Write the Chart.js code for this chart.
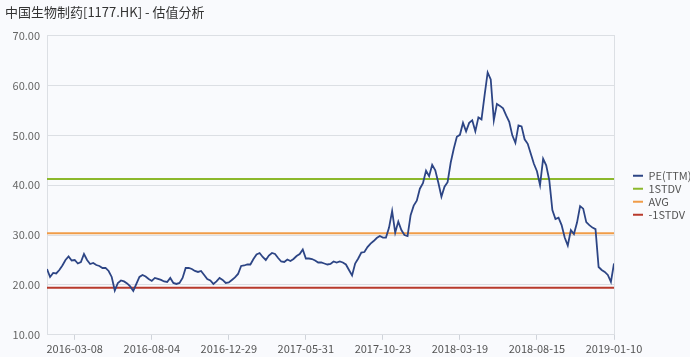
<!DOCTYPE html>
<html>
<head>
<meta charset="utf-8">
<script src="https://cdn.jsdelivr.net/npm/chart.js@4"></script>
<style>
  html, body { margin: 0; padding: 0; background: #f9fafd; }
  #wrap { width: 690px; height: 357px; }
</style>
</head>
<body>
<div id="wrap"><canvas id="chart"></canvas></div>
<script>
const title = '中国生物制药[1177.HK] - 估值分析'

// axis tick labels and where they fall in the series
const tickDates = ['2016-03-08', '2016-08-04', '2016-12-29', '2017-05-31', '2017-10-23', '2018-03-19', '2018-08-15', '2019-01-10']
const tickIdx = [9, 34, 59, 84, 109, 134, 159, 184]

// PE(TTM), sampled evenly from start to 2019-01-10
const pe = [
  23.2, 21.6, 22.4, 22.3, 23.0, 23.9, 25.0, 25.7, 24.9, 25.0,
  24.3, 24.6, 26.2, 25.0, 24.2, 24.4, 24.0, 23.8, 23.4, 23.4,
  22.8, 21.6, 18.9, 20.4, 20.9, 20.7, 20.3, 19.7, 18.8, 20.2,
  21.6, 22.0, 21.7, 21.2, 20.8, 21.4, 21.2, 21.0, 20.7, 20.6,
  21.4, 20.4, 20.2, 20.4, 21.4, 23.4, 23.4, 23.2, 22.8, 22.6,
  22.8, 22.0, 21.2, 20.9, 20.2, 20.7, 21.4, 21.0, 20.4, 20.5,
  21.0, 21.5, 22.2, 23.8, 23.9, 24.1, 24.1, 25.2, 26.1, 26.4,
  25.6, 25.0, 25.9, 26.4, 26.2, 25.4, 24.7, 24.6, 25.1, 24.8,
  25.2, 25.8, 26.2, 27.1, 25.3, 25.3, 25.2, 24.9, 24.5, 24.5,
  24.3, 24.1, 24.2, 24.7, 24.5, 24.7, 24.5, 24.1, 23.0, 21.9,
  24.3, 25.3, 26.5, 26.6, 27.6, 28.3, 28.8, 29.4, 29.8, 29.5,
  29.5, 31.5, 34.8, 30.5, 32.7, 31.0, 30.0, 29.8, 34.0, 35.9,
  36.9, 39.3, 40.4, 42.9, 41.8, 44.1, 43.0, 40.5, 37.7, 39.7,
  40.6, 44.5, 47.3, 49.7, 50.1, 52.5, 50.8, 52.5, 53.0, 50.8,
  53.6, 53.2, 58.0, 62.6, 61.2, 53.0, 56.3, 55.9, 55.4, 54.0,
  52.7, 50.0, 48.5, 52.0, 51.8, 49.2, 48.3, 46.3, 44.3, 42.8,
  40.0, 45.3, 44.0, 41.0, 35.0, 33.2, 33.5, 32.0, 29.5, 27.9,
  31.0, 30.2, 32.5, 35.8, 35.3, 32.6, 32.0, 31.5, 31.2, 23.6,
  23.0, 22.6, 22.0, 20.6, 24.3
]

const plusStd = 41.25
const avg = 30.35
const minusStd = 19.45

const FONT = '"Noto Sans CJK SC", "Noto Sans", sans-serif'
const last = pe.length - 1

function flat(v) {
  return [{x: 0, y: v}, {x: last, y: v}]
}

new Chart(document.getElementById('chart'), {
  type: 'line',
  data: {
    datasets: [
      { label: 'PE(TTM)', data: pe.map((v, i) => ({x: i, y: v})), borderColor: '#2d4585', backgroundColor: '#2d4585', borderWidth: 1.8 },
      { label: '1STDV', data: flat(plusStd), borderColor: '#8cb82c', backgroundColor: '#8cb82c', borderWidth: 2 },
      { label: 'AVG', data: flat(avg), borderColor: '#f09c48', backgroundColor: '#f09c48', borderWidth: 2 },
      { label: '-1STDV', data: flat(minusStd), borderColor: '#b83a2c', backgroundColor: '#b83a2c', borderWidth: 2 }
    ]
  },
  options: {
    responsive: true,
    maintainAspectRatio: false,
    animation: false,
    layout: { padding: { left: 5, right: 0, top: 0, bottom: 0 } },
    elements: { point: { radius: 0 }, line: { tension: 0 } },
    scales: {
      x: {
        type: 'linear',
        min: 0,
        max: last,
        afterBuildTicks: (scale) => { scale.ticks = tickIdx.map(v => ({value: v})) },
        ticks: {
          autoSkip: false,
          maxRotation: 0,
          padding: 2,
          color: '#555',
          font: { family: FONT, size: 11 },
          callback: (value, index) => tickDates[index]
        },
        grid: { drawOnChartArea: false, tickLength: 5, color: '#cfd3da' },
        border: { color: '#dcdfe4' }
      },
      y: {
        min: 10,
        max: 70,
        afterFit: (scale) => { scale.width = 42 },
        ticks: {
          stepSize: 10,
          padding: 7,
          color: '#666',
          font: { family: FONT, size: 11 },
          callback: (v) => v.toFixed(2)
        },
        grid: { color: '#dcdfe4', drawTicks: false },
        border: { color: '#dcdfe4' }
      },
      // spacer on the right: draws the right frame line and pushes the legend out
      y2: {
        position: 'right',
        afterFit: (scale) => { scale.width = 17 },
        ticks: { display: false },
        grid: { display: false, drawTicks: false },
        border: { color: '#dcdfe4' }
      }
    },
    plugins: {
      title: {
        display: true,
        text: title,
        align: 'start',
        color: '#333',
        font: { family: FONT, size: 13, weight: 'normal' },
        padding: { top: 4, bottom: 16 }
      },
      legend: {
        position: 'right',
        fullSize: false,
        maxWidth: 59,
        title: { display: true, text: '', font: { size: 10 }, padding: { top: 0, bottom: 8 } },
        labels: {
          boxWidth: 10,
          boxHeight: 2,
          padding: 2,
          color: '#555',
          font: { family: FONT, size: 11 },
          generateLabels: (chart) => Chart.defaults.plugins.legend.labels.generateLabels(chart).map(l => Object.assign(l, { lineWidth: 0, fillStyle: l.strokeStyle }))
        }
      },
      tooltip: { enabled: false }
    }
  }
});
</script>
</body>
</html>
